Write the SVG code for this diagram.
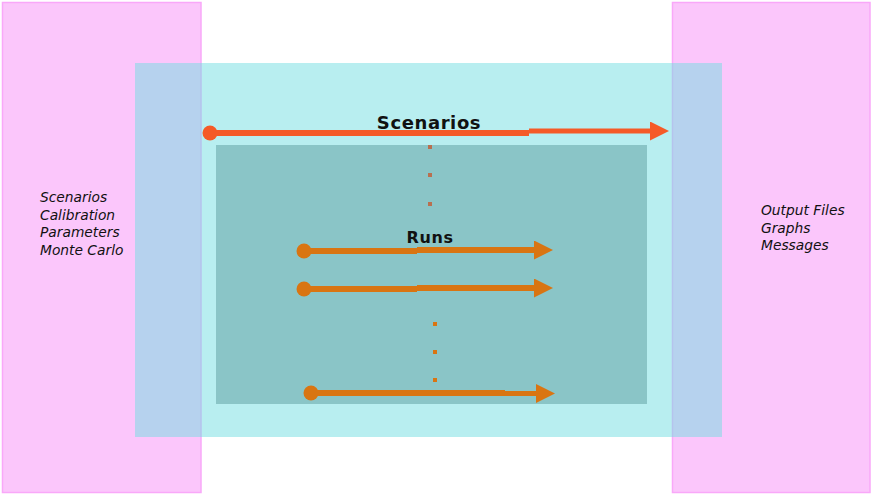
<svg xmlns="http://www.w3.org/2000/svg" width="872" height="495" viewBox="0 0 872 495">
<style>
.side{fill:#fbc6fb;stroke:#f9a8f9;stroke-width:1.5}
.lbl{font-family:"DejaVu Sans",sans-serif;font-style:italic;font-size:13.8px;fill:#111}
.ttl{font-family:"DejaVu Sans",sans-serif;font-weight:bold;fill:#111;text-anchor:middle;letter-spacing:0.6px}
.sc{stroke:#f55a28;fill:none}
.run{stroke:#d97512;fill:none}
</style>
<defs>
<marker id="ahS" markerWidth="19" markerHeight="19" refX="0" refY="9.5" markerUnits="userSpaceOnUse" orient="auto"><path d="M0,0 L19,9.5 L0,19 Z" fill="#f55a28"/></marker>
<marker id="ahR" markerWidth="19" markerHeight="19" refX="0" refY="9.5" markerUnits="userSpaceOnUse" orient="auto"><path d="M0,0 L19,9.5 L0,19 Z" fill="#d97512"/></marker>
</defs>
<g id="inputs">
<rect class="side" x="2.5" y="2.5" width="198.5" height="490"/>
<text class="lbl" x="40" y="202">Scenarios</text>
<text class="lbl" x="40" y="219.5">Calibration</text>
<text class="lbl" x="40" y="237">Parameters</text>
<text class="lbl" x="40" y="254.5">Monte Carlo</text>
</g>
<g id="outputs">
<rect class="side" x="672.5" y="2.5" width="197.5" height="490"/>
<text class="lbl" x="761" y="215">Output Files</text>
<text class="lbl" x="761" y="232.5">Graphs</text>
<text class="lbl" x="761" y="250">Messages</text>
</g>
<g id="scenarios">
<rect x="135" y="63" width="587" height="374" fill="#71dde1" fill-opacity="0.5"/>
<text class="ttl" x="429" y="129" font-size="18">Scenarios</text>
</g>
<g id="runs">
<rect x="216" y="145" width="431" height="259" fill="#8ac5c7"/>
<text class="ttl" x="430" y="243" font-size="16">Runs</text>
</g>
<g id="connectors">
<circle cx="210" cy="133" r="7.5" fill="#f55a28"/>
<path class="sc" stroke-width="6" d="M210,133 H529"/>
<path class="sc" stroke-width="5" d="M529,131 H650" marker-end="url(#ahS)"/>
<g fill="#b87050"><rect x="428" y="145" width="4" height="4"/><rect x="428" y="173" width="4" height="4"/><rect x="428" y="202" width="4" height="4"/></g>
<circle cx="304" cy="251" r="7.5" fill="#d97512"/>
<path class="run" stroke-width="6" d="M304,251 H417"/>
<path class="run" stroke-width="6" d="M417,250 H534" marker-end="url(#ahR)"/>
<circle cx="304" cy="289" r="7.5" fill="#d97512"/>
<path class="run" stroke-width="6" d="M304,289 H417"/>
<path class="run" stroke-width="6" d="M417,288 H534" marker-end="url(#ahR)"/>
<g fill="#d97512"><rect x="433" y="322" width="4" height="4"/><rect x="433" y="350" width="4" height="4"/><rect x="433" y="378" width="4" height="4"/></g>
<circle cx="311" cy="393" r="7.5" fill="#d97512"/>
<path class="run" stroke-width="6" d="M311,393 H505"/>
<path class="run" stroke-width="5" d="M505,393.5 H536" marker-end="url(#ahR)"/>
</g>
</svg>
